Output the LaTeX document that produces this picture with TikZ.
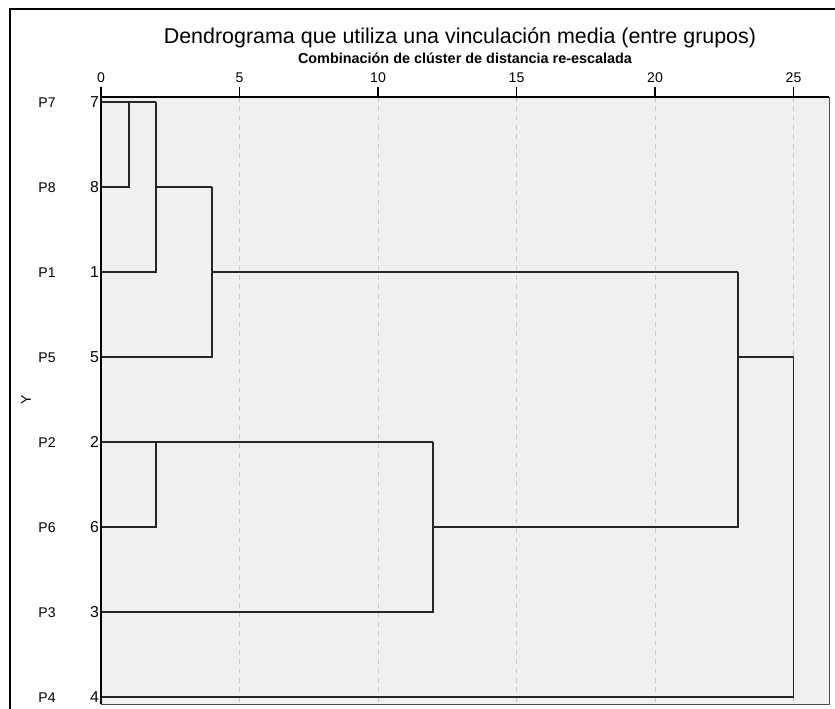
\documentclass[tikz,border=0pt]{standalone}
\usepackage{fontspec}
\setmainfont{Liberation Sans}
\usetikzlibrary{positioning}

\begin{document}
\begin{tikzpicture}[
    x=0.03cm, y=-0.03cm,
    link/.style={draw=black!85, line width=1.6pt},
    grid/.style={draw=black!22, dashed, dash pattern=on 4pt off 4pt, line width=0.8pt},
    leafnum/.style={anchor=east, inner sep=1.5pt, font=\fontsize{13.5}{15}\selectfont},
    leafname/.style={font=\fontsize{12}{14}\selectfont},
    ticklabel/.style={font=\fontsize{12}{14}\selectfont}
]
    \useasboundingbox (0,0) rectangle (835,709);
    \fill[black!6] (101,97) rectangle (829,704);
    \draw[black!70, line width=0.8pt] (829,97) -- (829,704) -- (101,704);

    \node[font=\fontsize{18.3}{22}\selectfont] (title) at (460,38) {Dendrograma que utiliza una vinculación media (entre grupos)};
    \node[font=\bfseries\fontsize{12.3}{14}\selectfont] (subtitle) at (465,58) {Combinación de clúster de distancia re-escalada};
    \node[rotate=90, font=\fontsize{12}{14}\selectfont] (yaxis) at (26,400) {Y};

    \begin{scope}[shift={(101,0)}, x=0.831cm]
        \foreach \d in {5,10,...,25}
            \draw[grid] (\d,97) -- (\d,704);
        \foreach \d in {0,5,...,25} {
            \draw[black, line width=1.4pt] (\d,87) -- (\d,97);
            \node[ticklabel] (t\d) at (\d,78) {\d};
        }

        \foreach \lab/\num/\yy in {P7/7/102, P8/8/187, P1/1/272, P5/5/357, P2/2/442, P6/6/527, P3/3/612, P4/4/697} {
            \coordinate (l\num) at (0,\yy);
            \node[leafnum] (n\num) at (l\num) {\num};
            \node[leafname] (p\num) at (-1.95,\yy+1) {\lab};
        }

        \coordinate (j78) at (1,102);
        \coordinate (j781) at (2,102);
        \coordinate (j7815) at (4,187);
        \coordinate (j26) at (2,442);
        \coordinate (j263) at (12,442);
        \coordinate (jA) at (23,272);
        \coordinate (jall) at (25,357);

        \draw[link] (l8) -| (j78);
        \draw[link] (l7) -- (j781);
        \draw[link] (l1) -| (j781);
        \draw[link] (j781 |- l8) -- (j7815);
        \draw[link] (l5) -| (j7815);
        \draw[link] (j7815 |- l1) -- (jA);
        \draw[link] (l6) -| (j26);
        \draw[link] (l2) -- (j263);
        \draw[link] (l3) -| (j263);
        \draw[link] (j263 |- l6) -| (jA);
        \draw[link] (jA |- l5) -- (jall);
        \draw[link] (l4) -| (jall);
    \end{scope}

    \draw[black, line width=1.4pt] (101,97) -- (829,97);
    \draw[black, line width=1.4pt] (101,87) -- (101,704);
    \draw[line width=2.5pt] (10,709) -- (10,9) -- (835,9);
\end{tikzpicture}
\end{document}
